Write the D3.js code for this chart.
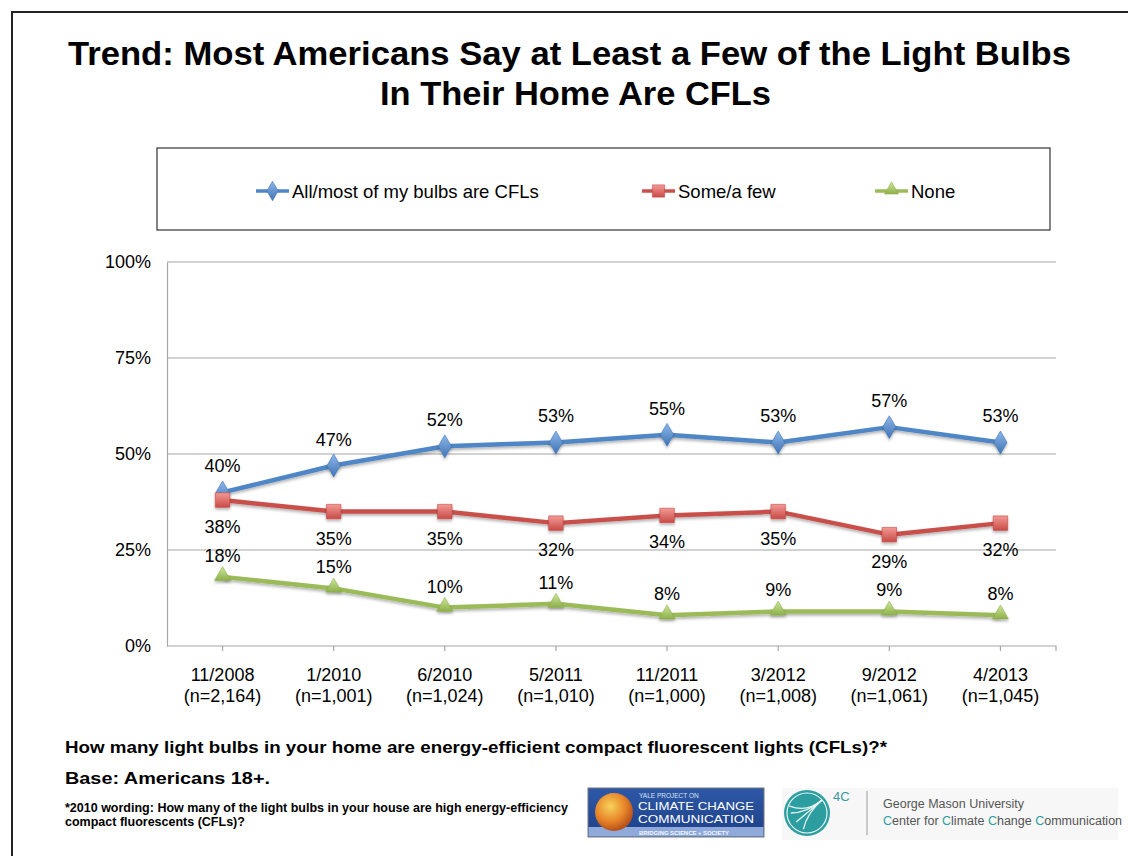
<!DOCTYPE html>
<html>
<head>
<meta charset="utf-8">
<script src="https://cdn.jsdelivr.net/npm/d3@7/dist/d3.min.js"></script>
<style>
  html, body { margin: 0; padding: 0; background: #fff; }
  svg { display: block; }
  text { font-family: "Liberation Sans", Arial, Helvetica, sans-serif; }
</style>
</head>
<body>
<svg id="chart" width="1128" height="856"></svg>
<script>
// ---------- data ----------
const categories = ["11/2008", "1/2010", "6/2010", "5/2011", "11/2011", "3/2012", "9/2012", "4/2013"];
const sampleSizes = ["(n=2,164)", "(n=1,001)", "(n=1,024)", "(n=1,010)", "(n=1,000)", "(n=1,008)", "(n=1,061)", "(n=1,045)"];
const seriesNames = ["All/most of my bulbs are CFLs", "Some/a few", "None"];
const allMost = [40, 47, 52, 53, 55, 53, 57, 53];
const someFew = [38, 35, 35, 32, 34, 35, 29, 32];
const none = [18, 15, 10, 11, 8, 9, 9, 8];
const yTicks = [0, 25, 50, 75, 100];

const titleLines = ["Trend: Most Americans Say at Least a Few of the Light Bulbs", "In Their Home Are CFLs"];
const question = "How many light bulbs in your home are energy-efficient compact fluorescent lights (CFLs)?*";
const base = "Base: Americans 18+.";
const footnote = ["*2010 wording: How many of the light bulbs in your house are high energy-efficiency", "compact fluorescents (CFLs)?"];

// ---------- setup ----------
const svg = d3.select("#chart");
const defs = svg.append("defs");

const series = [
  { name: seriesNames[0], values: allMost, color: "#4F86C6", light: "#8DB7EA", dark: "#3F74B5", shape: "diamond", labelPos: "above" },
  { name: seriesNames[1], values: someFew, color: "#C9504C", light: "#F29A95", dark: "#C94A46", shape: "square", labelPos: "below" },
  { name: seriesNames[2], values: none, color: "#9BBB59", light: "#CFE79A", dark: "#8DB04A", shape: "triangle", labelPos: "above" }
];

series.forEach((s, i) => {
  const g = defs.append("linearGradient").attr("id", "grad" + i).attr("x1", 0).attr("y1", 0).attr("x2", 0).attr("y2", 1);
  g.append("stop").attr("offset", "0%").attr("stop-color", s.light);
  g.append("stop").attr("offset", "100%").attr("stop-color", s.dark);
});
const shadow = defs.append("filter").attr("id", "shadow").attr("x", "-10%").attr("y", "-30%").attr("width", "120%").attr("height", "160%");
shadow.append("feDropShadow").attr("dx", 0).attr("dy", 2).attr("stdDeviation", 1.5).attr("flood-color", "#000").attr("flood-opacity", 0.3);

// frame
svg.append("path").attr("d", "M12,856 L12,12 L1128,12").attr("fill", "none").attr("stroke", "#222").attr("stroke-width", 2);

// title
const titleX = [569.5, 575.5];
const titleW = [1003, 391];
svg.append("g").selectAll("text").data(titleLines).join("text")
  .attr("x", (d, i) => titleX[i]).attr("y", (d, i) => 65 + i * 40)
  .attr("text-anchor", "middle").attr("font-size", 33).attr("font-weight", "bold").attr("fill", "#000")
  .attr("textLength", (d, i) => titleW[i]).attr("lengthAdjust", "spacingAndGlyphs")
  .text(d => d);

// ---------- scales ----------
const plot = { left: 167, right: 1056, top: 262, bottom: 646 };
const x = d3.scaleBand().domain(categories).range([plot.left, plot.right]);
const cx = c => x(c) + x.bandwidth() / 2;
const y = d3.scaleLinear().domain([0, 100]).range([plot.bottom, plot.top]);

// gridlines
svg.append("g").selectAll("line").data(yTicks.filter(t => t > 0)).join("line")
  .attr("x1", plot.left).attr("x2", plot.right)
  .attr("y1", d => y(d)).attr("y2", d => y(d))
  .attr("stroke", "#A6A6A6").attr("stroke-width", 1.2);

// y axis
const yAxis = d3.axisLeft(y).tickValues(yTicks).tickSize(0).tickPadding(16).tickFormat(d => d + "%");
const yg = svg.append("g").attr("transform", `translate(${plot.left},0)`).call(yAxis);
yg.select(".domain").attr("stroke", "#A6A6A6").attr("stroke-width", 1.2);
yg.selectAll("text").attr("font-size", 18).attr("fill", "#000").attr("font-family", "Liberation Sans, Arial, sans-serif");

// x axis
const xAxis = d3.axisBottom(x).tickSize(5).tickFormat("");
const xg = svg.append("g").attr("transform", `translate(0,${plot.bottom})`).call(xAxis);
xg.select(".domain").attr("stroke", "#A6A6A6").attr("stroke-width", 1.2).attr("d", `M${plot.left},0H${plot.right}V5`);
xg.selectAll(".tick line").attr("stroke", "#A6A6A6").attr("stroke-width", 1.2);
const xl = svg.append("g");
xl.selectAll("text.cat").data(categories).join("text").attr("class", "cat")
  .attr("x", d => cx(d)).attr("y", 681).attr("text-anchor", "middle").attr("font-size", 18).text(d => d);
xl.selectAll("text.n").data(sampleSizes).join("text").attr("class", "n")
  .attr("x", (d, i) => cx(categories[i])).attr("y", 702).attr("text-anchor", "middle").attr("font-size", 18).text(d => d);

// ---------- series ----------
const line = d3.line().x((d, i) => cx(categories[i])).y(d => y(d));
const symbolFor = shape => shape === "diamond" ? d3.symbol().type(d3.symbolDiamond).size(150)
  : shape === "square" ? d3.symbol().type(d3.symbolSquare).size(210)
  : d3.symbol().type(d3.symbolTriangle).size(110);

series.forEach((s, si) => {
  const g = svg.append("g");
  g.append("path").attr("d", line(s.values)).attr("fill", "none")
    .attr("stroke", s.color).attr("stroke-width", 4.5).attr("stroke-linejoin", "round").attr("filter", "url(#shadow)");
  g.selectAll("path.m").data(s.values).join("path").attr("class", "m")
    .attr("transform", (d, i) => `translate(${cx(categories[i])},${y(d) + (s.shape === "triangle" ? -1 : 0)})`)
    .attr("d", symbolFor(s.shape)())
    .attr("fill", `url(#grad${si})`).attr("stroke", s.dark).attr("stroke-width", 0.6).attr("filter", "url(#shadow)");
  g.selectAll("text").data(s.values).join("text")
    .attr("x", (d, i) => cx(categories[i]))
    .attr("y", d => s.labelPos === "above" ? y(d) - (si === 0 ? 20 : 15) : y(d) + 33)
    .attr("text-anchor", "middle").attr("font-size", 18).attr("fill", "#000")
    .text(d => d + "%");
});

// ---------- legend ----------
svg.append("rect").attr("x", 157).attr("y", 148).attr("width", 893).attr("height", 82)
  .attr("fill", "#fff").attr("stroke", "#333").attr("stroke-width", 1.2);
const legendX = [256, 642, 875];
series.forEach((s, si) => {
  const g = svg.append("g").attr("transform", `translate(${legendX[si]},191)`);
  g.append("line").attr("x1", 0).attr("x2", 33).attr("stroke", s.color).attr("stroke-width", 3.5);
  g.append("path").attr("transform", `translate(16.5,${s.shape === "triangle" ? -1 : 0})`)
    .attr("d", d3.symbol().type(s.shape === "diamond" ? d3.symbolDiamond : s.shape === "square" ? d3.symbolSquare : d3.symbolTriangle).size(s.shape === "square" ? 150 : s.shape === "diamond" ? 110 : 85)())
    .attr("fill", `url(#grad${si})`).attr("stroke", s.dark).attr("stroke-width", 0.6);
  g.append("text").attr("x", 36).attr("y", 7).attr("font-size", 18.5).attr("fill", "#000").text(s.name);
});

// ---------- footnotes ----------
svg.append("text").attr("x", 65).attr("y", 753).attr("font-size", 17).attr("font-weight", "bold")
  .attr("textLength", 822).attr("lengthAdjust", "spacingAndGlyphs").text(question);
svg.append("text").attr("x", 65).attr("y", 784).attr("font-size", 17).attr("font-weight", "bold")
  .attr("textLength", 205).attr("lengthAdjust", "spacingAndGlyphs").text(base);
svg.append("g").selectAll("text").data(footnote).join("text")
  .attr("x", 65).attr("y", (d, i) => 812 + i * 14).attr("font-size", 12.5).attr("font-weight", "bold").text(d => d);

// ---------- logos ----------
const yale = svg.append("g");
const yg2 = defs.append("linearGradient").attr("id", "yaleBg").attr("x1", 0).attr("y1", 0).attr("x2", 0).attr("y2", 1);
yg2.append("stop").attr("offset", "0%").attr("stop-color", "#2E59A8");
yg2.append("stop").attr("offset", "100%").attr("stop-color", "#1D3F86");
yale.append("rect").attr("x", 588).attr("y", 788).attr("width", 176).attr("height", 49).attr("fill", "url(#yaleBg)").attr("stroke", "#777").attr("stroke-width", 1);
yale.append("rect").attr("x", 588.5).attr("y", 827).attr("width", 175).attr("height", 9.5).attr("fill", "#8FA9DA");
const globe = defs.append("radialGradient").attr("id", "globe").attr("cx", "40%").attr("cy", "35%").attr("r", "65%");
globe.append("stop").attr("offset", "0%").attr("stop-color", "#F6D35A");
globe.append("stop").attr("offset", "60%").attr("stop-color", "#E8862A");
globe.append("stop").attr("offset", "100%").attr("stop-color", "#B8501A");
yale.append("circle").attr("cx", 614).attr("cy", 812).attr("r", 19).attr("fill", "url(#globe)");
yale.append("text").attr("x", 639).attr("y", 798).attr("font-size", 6.5).attr("fill", "#D8E2F5").attr("font-family", "Liberation Serif, serif").text("YALE PROJECT ON");
yale.append("text").attr("x", 638).attr("y", 810).attr("font-size", 11.5).attr("fill", "#fff").attr("font-family", "Liberation Serif, serif").attr("textLength", 116).attr("lengthAdjust", "spacingAndGlyphs").text("CLIMATE CHANGE");
yale.append("text").attr("x", 638).attr("y", 822.5).attr("font-size", 11.5).attr("fill", "#fff").attr("font-family", "Liberation Serif, serif").attr("textLength", 116).attr("lengthAdjust", "spacingAndGlyphs").text("COMMUNICATION");
yale.append("text").attr("x", 639).attr("y", 834.5).attr("font-size", 6).attr("fill", "#F3F6FB").attr("font-family", "Liberation Serif, serif").attr("font-weight", "bold").attr("textLength", 90).text("BRIDGING SCIENCE + SOCIETY");

const gmu = svg.append("g");
gmu.append("rect").attr("x", 782).attr("y", 788).attr("width", 336).attr("height", 52).attr("fill", "#F7F7F7");
gmu.append("circle").attr("cx", 807).attr("cy", 813).attr("r", 23).attr("fill", "#2C9EA0");
gmu.append("circle").attr("cx", 807).attr("cy", 813).attr("r", 20).attr("fill", "none").attr("stroke", "#E6F4F4").attr("stroke-width", 1.2);
[[-0.9, 0], [-0.6, 0.5], [-0.2, 0.9], [-1, -0.4]].forEach(p => {
  gmu.append("path").attr("d", `M${807 + p[0] * 18},${813 + p[1] * 18} Q807,813 ${822},${800}`)
    .attr("fill", "none").attr("stroke", "#E6F4F4").attr("stroke-width", 1.3);
});
gmu.append("text").attr("x", 833).attr("y", 801).attr("font-size", 13).attr("fill", "#3A9AA0").text("4C");
gmu.append("line").attr("x1", 867).attr("x2", 867).attr("y1", 791).attr("y2", 835).attr("stroke", "#999").attr("stroke-width", 1);
gmu.append("text").attr("x", 883).attr("y", 808).attr("font-size", 12.5).attr("fill", "#555").text("George Mason University");
const ct = gmu.append("text").attr("x", 883).attr("y", 825).attr("font-size", 12.5).attr("fill", "#555");
[["C", 1], ["enter for ", 0], ["C", 1], ["limate ", 0], ["C", 1], ["hange ", 0], ["C", 1], ["ommunication", 0]].forEach(p => {
  ct.append("tspan").attr("fill", p[1] ? "#2C9EA0" : "#555").text(p[0]);
});
</script>
</body>
</html>
